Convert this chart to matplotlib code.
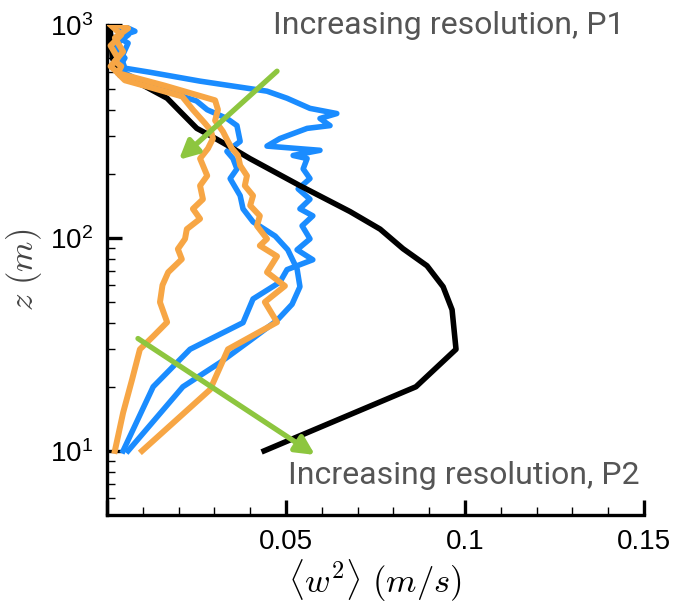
import numpy as np
import matplotlib
matplotlib.use("Agg")
import matplotlib.pyplot as plt
from matplotlib.ticker import MultipleLocator, LogLocator, FuncFormatter, NullFormatter

plt.rcParams['font.family'] = ['Liberation Sans', 'DejaVu Sans']
plt.rcParams['mathtext.fontset'] = 'custom'
plt.rcParams['mathtext.rm'] = 'Liberation Sans'
plt.rcParams['mathtext.it'] = 'Liberation Sans:italic'

# black reference profile
z_black = [10, 20, 30, 46, 59, 74, 89, 110, 133, 176, 236, 263, 303, 327, 393, 453, 521, 581, 700, 1000]
w_black = [0.0439, 0.0863, 0.0975, 0.0964, 0.0939, 0.0894, 0.0827, 0.0763, 0.0679, 0.0539,
           0.0399, 0.0352, 0.0288, 0.0251, 0.0204, 0.0168, 0.0101, 0.0036, 0.0015, 0.0008]

# blue, jagged (goes far out at top)
z_blue1 = [10, 20, 30, 40, 51.7, 62, 71, 79, 88, 99, 114, 127, 137, 152, 170, 190, 211, 236, 244,
           258, 270, 293, 327, 337, 364, 384, 406, 453, 489, 545, 600, 627, 700, 822, 880, 935, 1000]
w_blue1 = [0.0045, 0.0129, 0.0232, 0.038, 0.0408, 0.0483, 0.0503, 0.0575, 0.0531, 0.0567, 0.0545,
           0.0575, 0.0539, 0.0567, 0.0534, 0.0567, 0.0548, 0.0559, 0.052, 0.0595, 0.0447, 0.0483,
           0.0559, 0.0623, 0.0595, 0.0642, 0.0567, 0.0503, 0.0447, 0.026, 0.012, 0.005, 0.004,
           0.0059, 0.003, 0.0078, 0.004]

# blue, smoother
z_blue2 = [10, 20, 26, 33, 41, 48.8, 59, 71.5, 88, 102, 119, 137, 158, 190, 211, 236, 255, 284,
           337, 364, 400, 440, 500, 560, 620, 700, 800, 900, 1000]
w_blue2 = [0.0059, 0.0212, 0.0316, 0.04, 0.0475, 0.0517, 0.0539, 0.0531, 0.0505, 0.047, 0.0408,
           0.038, 0.0372, 0.0344, 0.0363, 0.0352, 0.0335, 0.0372, 0.0363, 0.0335, 0.028, 0.025,
           0.015, 0.008, 0.003, 0.005, 0.002, 0.006, 0.002]

# orange, left
z_orange1 = [10, 15.1, 21.6, 30, 34.5, 40.2, 49.9, 60, 69, 79.5, 88.7, 99, 110, 123, 137, 152, 176,
             196, 236, 263, 293, 320, 345, 400, 462, 510, 550, 594, 640, 675, 750, 870, 965, 1000]
w_orange1 = [0.0022, 0.0045, 0.0070, 0.0092, 0.0129, 0.0168, 0.0148, 0.0155, 0.0171, 0.0209, 0.0198,
             0.0218, 0.0223, 0.026, 0.024, 0.0268, 0.026, 0.028, 0.026, 0.0282, 0.0296, 0.029,
             0.0274, 0.024, 0.021, 0.012, 0.005, 0.003, 0.004, 0.0022, 0.0045, 0.0022, 0.0059, 0.003]

# orange, right
z_orange2 = [10, 19.4, 30, 40.2, 50, 59.5, 69, 82, 92, 99, 114, 127, 142, 158, 176, 196, 219, 244,
             263, 284, 316, 356, 400, 443, 520, 594, 640, 700, 800, 900, 1000]
w_orange2 = [0.0098, 0.0288, 0.0338, 0.0475, 0.0441, 0.0497, 0.0447, 0.0475, 0.0427, 0.0447, 0.0419,
             0.0427, 0.04, 0.0408, 0.0385, 0.0391, 0.0372, 0.0366, 0.0349, 0.0338, 0.0324, 0.0302,
             0.031, 0.0302, 0.016, 0.0031, 0.001, 0.003, 0.001, 0.004, 0.001]

blue = '#1a8cff'
orange = '#f7a645'
green = '#8dc63f'

fig = plt.figure(figsize=(6.75, 6.03), dpi=100)
ax = fig.add_axes([0.1585, 0.146, 0.954 - 0.1585, 0.9585 - 0.146])

ax.plot(w_blue1, z_blue1, color=blue, lw=4.0, zorder=2)
ax.plot(w_blue2, z_blue2, color=blue, lw=4.0, zorder=2)
ax.plot(w_black, z_black, color='black', lw=4.0, zorder=3)
ax.plot(w_orange1, z_orange1, color=orange, lw=4.3, zorder=4)
ax.plot(w_orange2, z_orange2, color=orange, lw=4.3, zorder=4)

ax.set_yscale('log')
ax.set_xlim(0, 0.15)
ax.set_ylim(5, 1000)

# green arrows and annotations
ax.annotate('', xy=(0.0201, 233), xytext=(0.0475, 607),
            arrowprops=dict(arrowstyle='-|>', color=green, lw=3.8, mutation_scale=28,
                            shrinkA=0, shrinkB=0), zorder=6, annotation_clip=False)
ax.annotate('', xy=(0.0581, 9.57), xytext=(0.00866, 33.7),
            arrowprops=dict(arrowstyle='-|>', color=green, lw=3.8, mutation_scale=28,
                            shrinkA=0, shrinkB=0), zorder=6, annotation_clip=False)
ax.text(0.0464, 990, 'Increasing resolution, P1', family='Roboto', fontsize=23,
        color='#555555', va='center', ha='left', clip_on=False)
ax.text(0.0506, 7.7, 'Increasing resolution, P2', family='Roboto', fontsize=23,
        color='#555555', va='center', ha='left', clip_on=False)

for s in ['top', 'right']:
    ax.spines[s].set_visible(False)
for s in ['left', 'bottom']:
    ax.spines[s].set_linewidth(2.4)

ax.xaxis.set_major_locator(MultipleLocator(0.05))
ax.xaxis.set_minor_locator(MultipleLocator(0.01))
ax.xaxis.set_major_formatter(FuncFormatter(lambda v, p: '' if v == 0 else ('%g' % round(v, 3))))
ax.yaxis.set_major_locator(LogLocator(base=10))
ax.yaxis.set_minor_locator(LogLocator(base=10, subs=np.arange(2, 10)))
ax.yaxis.set_minor_formatter(NullFormatter())
ax.yaxis.set_major_formatter(FuncFormatter(lambda v, p: r'$\mathrm{10^{%d}}$' % round(np.log10(v))))

ax.tick_params(which='major', direction='in', length=11, width=2.4, labelsize=20, pad=10)
ax.tick_params(which='minor', direction='in', length=6, width=1.0)

ax.set_xlabel(r'$\langle w^2 \rangle\ (m/s)$', fontsize=25, math_fontfamily='cm', labelpad=2)
ax.set_ylabel(r'$z\ (m)$', fontsize=25, math_fontfamily='cm', color='#444444', labelpad=4)

fig.savefig('out.png', dpi=100)
